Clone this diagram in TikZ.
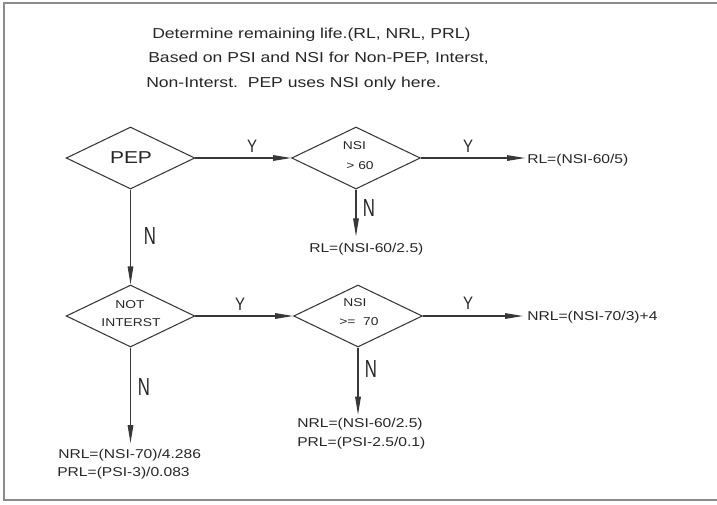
\documentclass[tikz,border=0pt]{standalone}
\usepackage{fontspec}
\setmainfont[FakeStretch=1.22]{Liberation Sans}
\newfontfamily\nfont[FakeStretch=0.68]{Liberation Sans}
\newfontfamily\yfont[FakeStretch=0.83]{Liberation Sans}
\usetikzlibrary{shapes.geometric,arrows.meta}
\definecolor{linec}{gray}{0.22}
\definecolor{txtc}{gray}{0.15}
\definecolor{framec}{gray}{0.55}
\begin{document}
\begin{tikzpicture}[x=0.75pt,y=-0.75pt,
  ln/.style={draw=linec, line width=0.8pt},
  arr/.style={ln, -{Triangle[length=13.5pt,width=4.2pt]}},
  dia/.style={diamond, draw=linec, line width=0.8pt, inner sep=0pt,
    minimum width=96.5pt, minimum height=46.5pt},
  ttl/.style={anchor=base west, inner sep=0pt, text=txtc,
    font=\fontsize{10.8}{13}\selectfont},
  frm/.style={anchor=base west, inner sep=0pt, text=txtc,
    font=\fontsize{9.6}{11}\selectfont},
  dtx/.style={inner sep=0pt, text=txtc, font=\fontsize{8.5}{10}\selectfont},
  ylab/.style={inner sep=0pt, text=txtc, font=\yfont\fontsize{13.5}{15}\selectfont},
  nlab/.style={inner sep=0pt, text=txtc, font=\nfont\fontsize{18.5}{20}\selectfont}]
\useasboundingbox (0,0) rectangle (717,504);
% frame
\draw[framec, line width=1.5pt] (717,3) -- (4,3) -- (4,500) -- (717,500);
% title
\node[ttl] (t1) at (152,38) {Determine remaining life.(RL, NRL, PRL)};
\node[ttl] (t2) at (148,62) {Based on PSI and NSI for Non-PEP, Interst,};
\node[ttl] (t3) at (146,87) {Non-Interst.\ \ PEP uses NSI only here.};
% diamonds
\node[dia] (pep) at (130.5,158) {};
\node[inner sep=0pt, text=txtc, font=\fontsize{12.9}{14}\selectfont] (pept) at (131,158) {PEP};
\node[dia] (nsi60) at (356,158) {};
\node[dtx] (nsi60a) at (354.5,146) {NSI};
\node[dtx] (nsi60b) at (360,166) {> 60};
\node[dia] (notint) at (130.5,316) {};
\node[dtx] (notinta) at (130,305) {NOT};
\node[dtx] (notintb) at (131,323) {INTERST};
\node[dia] (nsi70) at (358,316) {};
\node[dtx] (nsi70a) at (355,303) {NSI};
\node[dtx] (nsi70b) at (359,322) {>=\ \ 70};
% results
\node[frm] (rl1) at (527,163.5) {RL=(NSI-60/5)};
\node[frm] (rl2) at (309,252.6) {RL=(NSI-60/2.5)};
\node[frm] (nrl1) at (527,320.5) {NRL=(NSI-70/3)+4};
\node[frm] (nrl2) at (297,427.6) {NRL=(NSI-60/2.5)};
\node[frm] (prl2) at (297,446.6) {PRL=(PSI-2.5/0.1)};
\node[frm] (nrl3) at (58,458.6) {NRL=(NSI-70)/4.286};
\node[frm] (prl3) at (57,476.6) {PRL=(PSI-3)/0.083};
% connectors
\draw[arr] (pep.east) -- (nsi60.west);
\draw[arr, shorten >=1.5pt] (nsi60.east) -- (nsi60.east -| rl1.west);
\draw[arr, shorten >=5pt] (nsi60.south) -- (nsi60.south |- rl2.north);
\draw[arr] (pep.south) -- (notint.north);
\draw[arr] (notint.east) -- (nsi70.west);
\draw[arr, shorten >=3pt] (nsi70.east) -- (nsi70.east -| nrl1.west);
\draw[arr, shorten >=2.5pt] (nsi70.south) -- (nsi70.south |- nrl2.north);
\draw[arr, shorten >=4.5pt] (notint.south) -- (notint.south |- nrl3.north);
% Y / N labels
\node[ylab] (y1) at (252,146) {Y};
\node[ylab] (y2) at (468,146) {Y};
\node[ylab] (y3) at (240,304) {Y};
\node[ylab] (y4) at (468,303) {Y};
\node[nlab] (n1) at (150,236) {N};
\node[nlab] (n2) at (369,208) {N};
\node[nlab] (n3) at (144,387) {N};
\node[nlab] (n4) at (371,369) {N};
\end{tikzpicture}
\end{document}
